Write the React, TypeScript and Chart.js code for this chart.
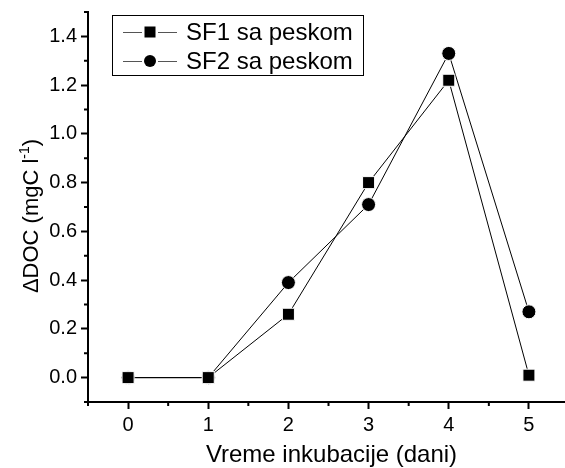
import React, { useEffect, useRef } from "react";
import { Chart, registerables } from "chart.js";

Chart.register(...registerables);

const days = [0, 1, 2, 3, 4, 5];
const sf1 = [0, 0, 0.26, 0.8, 1.22, 0.01];
const sf2 = [0, 0, 0.39, 0.71, 1.33, 0.27];
const seriesNames = ["SF1 sa peskom", "SF2 sa peskom"];
const xTicks = [0, 1, 2, 3, 4, 5];
const xMinor = [-0.5, 0.5, 1.5, 2.5, 3.5, 4.5, 5.5];
const yTicks = [0, 0.2, 0.4, 0.6, 0.8, 1.0, 1.2, 1.4];
const yMinor = [-0.1, 0.1, 0.3, 0.5, 0.7, 0.9, 1.1, 1.3, 1.5];
const xTitle = "Vreme inkubacije (dani)";

const FONT = "'Liberation Sans', Arial, Helvetica, sans-serif";

const decor = {
  id: "decor",
  afterDraw(chart: any) {
    const { ctx, chartArea: ca, scales } = chart;
    const x = scales.x;
    const y = scales.y;
    ctx.save();
    ctx.strokeStyle = "#000";
    ctx.lineWidth = 2;
    xMinor.forEach((v) => {
      const px = x.getPixelForValue(v);
      if (px < ca.left - 1 || px > ca.right + 1) return;
      ctx.beginPath();
      ctx.moveTo(px, ca.bottom);
      ctx.lineTo(px, ca.bottom + 4);
      ctx.stroke();
    });
    yMinor.forEach((v) => {
      const py = y.getPixelForValue(v);
      if (py < ca.top - 1 || py > ca.bottom + 1) return;
      ctx.beginPath();
      ctx.moveTo(ca.left, py);
      ctx.lineTo(ca.left - 4, py);
      ctx.stroke();
    });

    // x title
    ctx.fillStyle = "#000";
    ctx.font = `24px ${FONT}`;
    ctx.textAlign = "center";
    ctx.textBaseline = "alphabetic";
    ctx.fillText(xTitle, (ca.left + ca.right) / 2 + 5, ca.bottom + 60);

    // y title with superscript
    const big = `22px ${FONT}`;
    const small = `14px ${FONT}`;
    const p1 = "\u0394DOC (mgC l";
    const p2 = "-1";
    const p3 = ")";
    ctx.font = big;
    const w1 = ctx.measureText(p1).width;
    const w3 = ctx.measureText(p3).width;
    ctx.font = small;
    const w2 = ctx.measureText(p2).width;
    const total = w1 + w2 + w3;
    const cy = (ca.top + ca.bottom) / 2 + 9;
    ctx.translate(38, cy + total / 2);
    ctx.rotate(-Math.PI / 2);
    ctx.textAlign = "left";
    ctx.textBaseline = "alphabetic";
    ctx.font = big;
    ctx.fillText(p1, 0, 0);
    ctx.font = small;
    ctx.fillText(p2, w1, -9);
    ctx.font = big;
    ctx.fillText(p3, w1 + w2, 0);
    ctx.setTransform(1, 0, 0, 1, 0, 0);

    // legend
    const lx = ca.left + 24;
    const ly = ca.top + 3;
    const lw = 251;
    const lh = 60;
    ctx.fillStyle = "#fff";
    ctx.fillRect(lx, ly, lw, lh);
    ctx.strokeStyle = "#000";
    ctx.lineWidth = 1;
    ctx.strokeRect(lx + 0.5, ly + 0.5, lw, lh);
    seriesNames.forEach((name, i) => {
      const cyR = ly + 17 + i * 29;
      const mx = lx + 38;
      ctx.strokeStyle = "#555";
      ctx.lineWidth = 1;
      ctx.beginPath();
      ctx.moveTo(lx + 11, cyR + 0.5);
      ctx.lineTo(mx - 8, cyR + 0.5);
      ctx.moveTo(mx + 8, cyR + 0.5);
      ctx.lineTo(lx + 65, cyR + 0.5);
      ctx.stroke();
      ctx.fillStyle = "#000";
      if (i === 0) {
        ctx.fillRect(mx - 5.5, cyR - 5.5, 11, 11);
      } else {
        ctx.beginPath();
        ctx.arc(mx, cyR, 6, 0, Math.PI * 2);
        ctx.fill();
      }
      ctx.font = `24px ${FONT}`;
      ctx.textAlign = "left";
      ctx.textBaseline = "middle";
      ctx.fillText(name, lx + 74, cyR + 1);
    });
    ctx.restore();
  },
};

export default function App() {
  const ref = useRef<HTMLCanvasElement | null>(null);
  useEffect(() => {
    if (!ref.current) return;
    const chart = new Chart(ref.current, {
      type: "line",
      data: {
        datasets: [
          {
            label: seriesNames[0],
            data: days.map((d, i) => ({ x: d, y: sf1[i] })),
            borderColor: "#000",
            borderWidth: 1,
            pointStyle: "rect",
            pointRadius: 8.5,
            pointBackgroundColor: "#000",
            pointBorderColor: "#fff",
            pointBorderWidth: 1,
            tension: 0,
            clip: false,
          },
          {
            label: seriesNames[1],
            data: days.map((d, i) => ({ x: d, y: sf2[i] })),
            borderColor: "#000",
            borderWidth: 1,
            pointStyle: "circle",
            pointRadius: 7,
            pointBackgroundColor: "#000",
            pointBorderColor: "#fff",
            pointBorderWidth: 1,
            tension: 0,
            clip: false,
          },
        ],
      },
      options: {
        responsive: false,
        animation: false,
        devicePixelRatio: 1,
        layout: { autoPadding: false, padding: { top: 12, right: 0, left: 0, bottom: 0 } },
        plugins: { legend: { display: false }, tooltip: { enabled: false } },
        scales: {
          x: {
            type: "linear",
            min: -0.5,
            max: 5.45,
            afterBuildTicks: (s: any) => {
              s.ticks = xTicks.map((v) => ({ value: v }));
            },
            afterFit: (s: any) => {
              s.height = 66;
              s.paddingLeft = 0;
              s.paddingRight = 0;
            },
            grid: {
              display: true,
              drawOnChartArea: false,
              drawTicks: true,
              tickLength: 7,
              tickWidth: 2,
              tickColor: "#000",
            },
            border: { display: true, color: "#000", width: 2 },
            ticks: {
              color: "#000",
              font: { size: 20, family: FONT },
              padding: 4,
              maxRotation: 0,
              callback: (v: any) => String(v),
            },
          },
          y: {
            type: "linear",
            min: -0.1,
            max: 1.5,
            afterBuildTicks: (s: any) => {
              s.ticks = yTicks.map((v) => ({ value: v }));
            },
            afterFit: (s: any) => {
              s.width = 88;
              s.paddingTop = 0;
              s.paddingBottom = 0;
            },
            grid: {
              display: true,
              drawOnChartArea: false,
              drawTicks: true,
              tickLength: 7,
              tickWidth: 2,
              tickColor: "#000",
            },
            border: { display: true, color: "#000", width: 2 },
            ticks: {
              color: "#000",
              font: { size: 20, family: FONT },
              padding: 4,
              callback: (v: any) => Number(v).toFixed(1),
            },
          },
        },
      },
      plugins: [decor],
    });
    return () => chart.destroy();
  }, []);
  return (
    <div style={{ position: "absolute", left: 0, top: 0, width: 565, height: 468, background: "#fff" }}>
      <canvas ref={ref} width={565} height={468} style={{ display: "block" }} />
    </div>
  );
}
